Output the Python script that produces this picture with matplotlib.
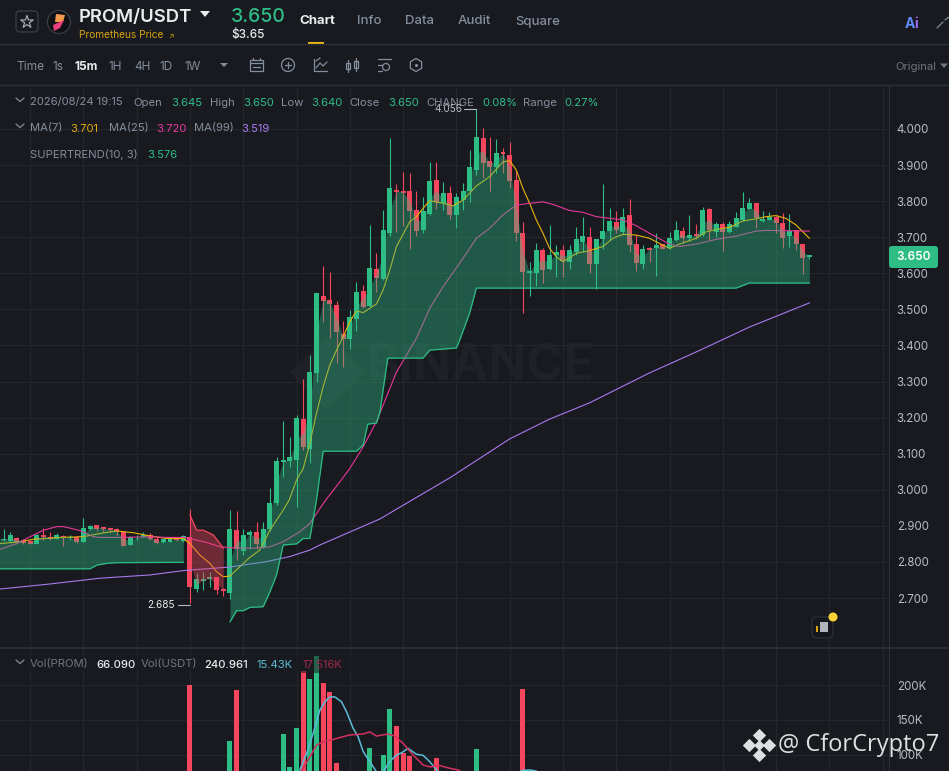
import numpy as np
import matplotlib
matplotlib.use("Agg")
import matplotlib.pyplot as plt
from matplotlib.patches import FancyBboxPatch, Rectangle, Circle, Polygon, RegularPolygon

plt.rcParams['font.family'] = ['Inter', 'DejaVu Sans']

open_ = [2.861,2.858,2.867,2.861,2.858,2.851,2.875,2.870,2.865,2.873,
2.866,2.868,2.855,2.892,2.902,2.896,2.893,2.890,2.884,2.848,
2.868,2.870,2.876,2.865,2.854,2.855,2.866,2.858,2.870,2.724,
2.748,2.752,2.757,2.726,2.713,2.888,2.831,2.875,2.883,2.842,
2.892,2.963,3.076,3.081,3.083,3.196,3.113,3.325,3.537,3.526,
3.512,3.432,3.418,3.473,3.551,3.509,3.613,3.583,3.711,3.831,
3.829,3.828,3.775,3.720,3.764,3.859,3.794,3.822,3.762,3.803,
3.827,3.886,3.975,3.911,3.896,3.937,3.928,3.859,3.711,3.600,
3.600,3.664,3.613,3.650,3.665,3.632,3.659,3.688,3.701,3.626,
3.694,3.717,3.741,3.714,3.762,3.681,3.626,3.671,3.671,3.681,
3.671,3.692,3.717,3.697,3.709,3.706,3.778,3.715,3.737,3.715,
3.727,3.748,3.778,3.794,3.745,3.748,3.757,3.740,3.704,3.720,
3.681,3.645]
close = [2.865,2.875,2.856,2.853,2.851,2.876,2.868,2.865,2.876,2.868,
2.870,2.855,2.893,2.900,2.890,2.891,2.888,2.884,2.845,2.870,
2.870,2.876,2.863,2.853,2.863,2.868,2.861,2.872,2.731,2.752,
2.753,2.757,2.722,2.720,2.890,2.835,2.875,2.883,2.850,2.892,
2.964,3.080,3.083,3.091,3.199,3.119,3.327,3.545,3.523,3.515,
3.437,3.418,3.479,3.548,3.507,3.614,3.586,3.720,3.836,3.825,
3.823,3.773,3.718,3.773,3.856,3.798,3.822,3.762,3.812,3.828,
3.895,3.979,3.905,3.896,3.934,3.930,3.856,3.713,3.604,3.606,
3.665,3.609,3.652,3.660,3.635,3.665,3.694,3.703,3.626,3.695,
3.718,3.745,3.720,3.757,3.678,3.628,3.668,3.665,3.678,3.668,
3.698,3.719,3.698,3.706,3.703,3.775,3.720,3.737,3.715,3.737,
3.752,3.782,3.794,3.752,3.750,3.757,3.740,3.698,3.718,3.681,
3.642,3.650]
high = [2.890,2.884,2.870,2.863,2.860,2.878,2.893,2.884,2.881,2.875,
2.875,2.870,2.921,2.902,2.903,2.897,2.894,2.893,2.885,2.872,
2.875,2.884,2.879,2.868,2.865,2.870,2.868,2.875,2.948,2.770,
2.773,2.773,2.758,2.727,2.944,2.941,2.890,2.888,2.911,2.911,
3.004,3.091,3.191,3.146,3.207,3.307,3.374,3.546,3.620,3.604,
3.523,3.468,3.498,3.576,3.568,3.734,3.655,3.775,3.975,3.847,
3.882,3.877,3.827,3.812,3.909,3.909,3.852,3.842,3.823,3.849,
3.942,4.056,4.003,3.979,3.971,3.948,3.964,3.884,3.741,3.632,
3.683,3.669,3.734,3.678,3.678,3.678,3.727,3.757,3.727,3.696,
3.847,3.780,3.774,3.780,3.806,3.706,3.678,3.672,3.711,3.682,
3.715,3.746,3.727,3.761,3.736,3.785,3.780,3.743,3.743,3.746,
3.771,3.826,3.808,3.796,3.773,3.771,3.759,3.766,3.764,3.721,
3.682,3.650]
low = [2.858,2.856,2.854,2.851,2.849,2.850,2.862,2.862,2.863,2.844,
2.862,2.853,2.854,2.888,2.887,2.884,2.884,2.875,2.844,2.847,
2.862,2.868,2.861,2.850,2.852,2.854,2.859,2.855,2.685,2.717,
2.722,2.731,2.711,2.706,2.696,2.805,2.819,2.835,2.835,2.838,
2.887,2.958,3.035,3.063,2.952,3.110,3.074,3.300,3.465,3.421,
3.351,3.340,3.390,3.440,3.504,3.507,3.547,3.581,3.703,3.715,
3.731,3.667,3.703,3.713,3.762,3.778,3.775,3.750,3.725,3.775,
3.798,3.872,3.863,3.828,3.879,3.877,3.837,3.689,3.489,3.537,
3.565,3.572,3.608,3.591,3.591,3.613,3.651,3.659,3.600,3.556,
3.666,3.692,3.711,3.706,3.660,3.607,3.613,3.632,3.592,3.666,
3.668,3.690,3.685,3.690,3.694,3.703,3.692,3.700,3.662,3.713,
3.727,3.746,3.777,3.726,3.743,3.747,3.711,3.669,3.674,3.665,
3.598,3.640]

ma7_i = [-0.5,2.5,4.5,8.5,12,14.5,17,19.5,22,24.5,27,28,29.5,31,32,33,34,35.5,37,38.5,40,42,42.9,44,45,46,47,48,49,50,51,52,53,54,55,56,57,58,59,61,62,63,64,66,67.5,69,71,73,75,76,77,78,79,80,81,82,83,84,86,88,90,91.5,93,95,97,99,100,101.5,104,105.5,108,109,111,113,114.5,116,117.5,119,121]
ma7_v = [2.851,2.856,2.863,2.868,2.870,2.879,2.886,2.881,2.872,2.865,2.865,2.851,2.819,2.796,2.773,2.759,2.761,2.787,2.813,2.833,2.888,2.944,2.972,3.027,3.059,3.129,3.212,3.286,3.346,3.387,3.424,3.466,3.496,3.491,3.503,3.515,3.554,3.609,3.674,3.743,3.757,3.780,3.801,3.794,3.787,3.803,3.842,3.868,3.909,3.912,3.886,3.835,3.794,3.748,3.711,3.669,3.646,3.632,3.655,3.663,3.674,3.697,3.708,3.706,3.697,3.678,3.669,3.681,3.697,3.715,3.725,3.727,3.745,3.751,3.757,3.760,3.752,3.734,3.697]
ma25_i = [-0.5,2,4,6,8,9,11.5,13.5,14.5,18,22,24.5,27,28,30.5,32.5,34.5,37.5,40,42,44.5,46,47.5,48.4,50.5,52,54,56,59,62,64,66,68.5,71,73,75,77,79,81,82.5,85,87,89,93,95,97,100,101.5,104,107,110,113,114.5,117.5,121]
ma25_v = [2.835,2.851,2.870,2.888,2.898,2.898,2.887,2.870,2.868,2.868,2.870,2.868,2.868,2.865,2.854,2.842,2.839,2.838,2.842,2.856,2.884,2.907,2.948,2.972,3.022,3.059,3.119,3.189,3.326,3.420,3.503,3.563,3.628,3.697,3.725,3.762,3.789,3.794,3.798,3.791,3.774,3.769,3.757,3.748,3.732,3.711,3.681,3.674,3.681,3.694,3.703,3.717,3.719,3.718,3.717]
ma99_i = [-0.5,7,14.5,22,27,34,39.5,43,46,47.5,56.5,67,76,82,88,97,104.6,112,121]
ma99_v = [2.725,2.739,2.755,2.764,2.776,2.786,2.801,2.815,2.833,2.847,2.919,3.033,3.141,3.196,3.241,3.324,3.387,3.451,3.518]

st1_i = [-0.5,13,14,15.5,17,27]
st1_v = [2.781,2.781,2.791,2.796,2.798,2.799]
st_red_i = [28,29,30,31.5,32.5,33]
st_red_v = [2.930,2.888,2.888,2.875,2.851,2.838]
st2_i = [34,35,36,37,39,40,41,42,44,45,46,47,48,53,54,54.7,56,56.5,57.7,63,64,68,68.5,70,71,110,112,121]
st2_v = [2.634,2.665,2.665,2.674,2.676,2.717,2.764,2.847,2.850,2.865,2.865,2.972,3.107,3.107,3.124,3.182,3.185,3.213,3.365,3.365,3.387,3.393,3.415,3.490,3.559,3.559,3.573,3.573]

vol_i = [28,34,35,42,43,44,45,46,47,48,49,50,55,57,58,59,60,61,65,71,78]
vol_k = [200,120,193,130,83,139,220,209,241,203,190,89,110,100,166,141,103,99,96,109,194]
volma_a_i = [44.5,45.5,46.5,47.5,48.25,49,49.75,50.75,51.5,52.5,53.25,54,55,56,57,58,59,59.75,60.75,62,63,64,65.25,67,76,77.75,79,80,82]
volma_a_k = [78.6,102,131,164,176,183,183,176,162,138,126,105,90.5,76,76,90.5,100,103,109.5,101,99.5,90.5,76,60,60,77.6,78.6,77,60]
volma_b_i = [44.75,45.75,47,48,49.25,50.5,52,54,55,56,57.75,58.75,60,61.5,63,64,65.5,67,68.25,68.75,70]
volma_b_k = [77,93,114,119,121.5,125,128.6,130,133,127,130,127,116.7,100,85.7,83,84.8,81,78.6,76,60]

price_ticks = [2.7,2.8,2.9,3.0,3.1,3.2,3.3,3.4,3.5,3.6,3.7,3.8,3.9,4.0]
vol_ticks = [100,150,200]

BG='#181a20'; GREEN='#2ebd85'; RED='#f6465d'; GRID='#23262d'; LINE='#2b3139'
GREY='#848e9c'; DIM='#6f7681'
W,H=949,771
fig=plt.figure(figsize=(W/100,H/100),dpi=100,facecolor=BG)

def axpx(x0,y0,x1,y1,**kw):
    return fig.add_axes([x0/W,1-y1/H,(x1-x0)/W,(y1-y0)/H],**kw)

ax=axpx(0,85,889,647,facecolor=BG)
vx=axpx(0,648,889,771,facecolor=BG)
ov=fig.add_axes([0,0,1,1],facecolor='none'); ov.set_xlim(0,W); ov.set_ylim(H,0); ov.axis('off'); ov.set_zorder(5)

xl=((0-3.5)/6.66,(889-3.5)/6.66)
o=np.array(open_);c=np.array(close);h=np.array(high);l=np.array(low)
idx=np.arange(len(o))
col=np.where(c>=o,GREEN,RED)
grid_x=np.arange(4,133,8)
for a in (ax,vx):
    a.set_xticks(grid_x); a.tick_params(axis='x',length=0,labelbottom=False)
    a.set_xlim(*xl)
    a.yaxis.tick_right()
    a.tick_params(axis='y',length=0,pad=5.5,labelsize=8.3,labelcolor='#b7bdc6')
    a.grid(True,color=GRID,lw=0.9,zorder=0); a.set_axisbelow(True)
    for s in a.spines.values(): s.set_visible(False)
    a.spines['right'].set_visible(True); a.spines['right'].set_color(LINE)
ax.set_yticks(price_ticks); ax.set_yticklabels([f'{t:.3f}' for t in price_ticks])
ax.set_ylim(2.5643,4.1219)
vx.set_yticks(vol_ticks); vx.set_yticklabels([f'{t}K' for t in vol_ticks])
vx.set_ylim(77.1,252.9)

# watermark under the candles
ax.text(481,367,'BINANCE',transform=ov.transData,ha='center',va='center',fontsize=36,fontweight='bold',color='#1f2127',zorder=0.5)
ax.scatter([327],[372],marker='D',s=1500,color='#1f2127',transform=ov.transData,zorder=0.5,lw=0)

ax.vlines(idx,l,h,colors=col,lw=0.8,zorder=1.5)
ax.bar(idx,c-o,bottom=o,width=0.75,color=col,lw=0,zorder=1.6)
ax.plot(ma7_i,ma7_v,color='#eab308',lw=0.8,zorder=2)
ax.plot(ma25_i,ma25_v,color='#e6399b',lw=0.8,zorder=2)
ax.plot(ma99_i,ma99_v,color='#a879ef',lw=0.8,zorder=2)

mid=(o+c)/2
def band(i0,i1,si,sv,color):
    xs=np.linspace(i0,i1,int((i1-i0)*6)+1)
    ax.fill_between(xs,np.interp(xs,si,sv),np.interp(xs,idx,mid),color=color,alpha=0.39,lw=0,zorder=3)
band(-0.6,27,st1_i,st1_v,GREEN)
band(28,33,st_red_i,st_red_v,RED)
band(34,121,st2_i,st2_v,GREEN)
ax.plot(st1_i,st1_v,color=GREEN,lw=0.9,zorder=3.5)
ax.plot(st_red_i,st_red_v,color=RED,lw=0.9,zorder=3.5)
ax.plot(st2_i,st2_v,color=GREEN,lw=0.9,zorder=3.5)

vcol=[GREEN if c[i]>=o[i] else RED for i in vol_i]
vx.bar(vol_i,vol_k,width=0.75,color=vcol,lw=0,zorder=2)
vx.plot(volma_a_i,volma_a_k,color='#5bbcd6',lw=1.1,zorder=3)
vx.plot(volma_b_i,volma_b_k,color='#d3305f',lw=1.1,zorder=3)

# chrome
def T(x,y,s,color=GREY,size=8.3,weight='normal',ha='left',**kw):
    ov.text(x,y,s,color=color,fontsize=size,fontweight=weight,ha=ha,va='center',**kw)
def L(xs,ys,color=GREY,lw=0.9):
    ov.plot(xs,ys,color=color,lw=lw,solid_capstyle='round')

for yy in (44,84.5): L([0,W],[yy,yy],LINE,1)
L([0,W],[647.5,647.5],LINE,1.2)
ov.add_patch(FancyBboxPatch((16,11),22,21,boxstyle='round,pad=0,rounding_size=4',fc='none',ec='#3a3f47',lw=0.9))
ov.scatter([27],[22],marker='*',s=90,fc='none',ec='#aeb4bc',lw=0.8)
ov.add_patch(Circle((59,22),11.5,fc='#101114',ec='#3a3f47',lw=0.9))
ov.add_patch(Polygon([[56,14],[65,15],[63,22],[55,22]],fc='#f39a4c',lw=0))
ov.add_patch(Polygon([[53,25],[64,20],[60,28],[54,31]],fc='#ec3d7c',lw=0))
T(79,17,'PROM/USDT','#eaecef',13.3,'semibold')
ov.add_patch(Polygon([[200,11],[210,11],[205,17]],fc='#eaecef',lw=0))
T(79,35.5,'Prometheus Price','#d9a40e',7.3)
T(168,36,'↗','#d9a40e',5)
T(231,17,'3.650',GREEN,14,'medium')
T(231,35,'$3.65','#eaecef',8.5,'medium')
T(299,21.5,'Chart','#eaecef',9.5,'bold')
for x,s in [(357,'Info'),(405,'Data'),(458,'Audit'),(515,'Square')]:
    T(x,21.5,s,GREY,9.5,'medium')
ov.add_patch(Rectangle((308,41.5),16,2.5,color='#f0b90b',lw=0))
T(905,24,'A','#5f8bf5',10,'bold')
T(914,24,'i','#a06cf0',10,'bold')
L([937,943],[28,22]); L([945,949],[20,17])

for x,s in [(16,'Time'),(53,'1s'),(109,'1H'),(134,'4H'),(160,'1D'),(185,'1W')]:
    T(x,66.5,s,GREY,8.5)
T(75,66.5,'15m','#eaecef',8.5,'bold')
ov.add_patch(Polygon([[220,63],[228,63],[224,67]],fc=GREY,lw=0))
# toolbar icons
ov.add_patch(Rectangle((250,60),13,11,fc='none',ec=GREY,lw=0.9)); L([250,263],[63,63]); L([253,253],[58,60]); L([260,260],[58,60]); L([253,260],[67,67])
ov.add_patch(Circle((288,65),6.5,fc='none',ec=GREY,lw=0.9)); L([285,291],[65,65]); L([288,288],[62,68])
L([314,314,327],[59,71,71]); L([316,320,323,327],[68,63,66,62]); L([316,320],[61,58])
for x,y0,y1 in [(348,63,69),(356,61,68)]:
    ov.add_patch(Rectangle((x-2,y0),4,y1-y0,fc='none',ec=GREY,lw=0.9)); L([x,x],[y0-3,y1+3])
L([378,391],[59,59]); L([378,382],[65,65]); L([378,382],[71,71]); ov.add_patch(Circle((386,67),3.5,fc='none',ec=GREY,lw=0.9))
ov.add_patch(RegularPolygon((416,65),6,radius=6.5,fc='none',ec=GREY,lw=0.9)); ov.scatter([416],[65],s=5,color=GREY,lw=0)
T(895,66.5,'Original',DIM,8.1)
ov.add_patch(Polygon([[940,63.5],[948,63.5],[944,68]],fc=DIM,lw=0))

def chev(y): L([16,20,24],[y-2,y+1.5,y-2],GREY,0.9)
chev(100)
for x,s,cl in [(30,'2026/08/24 19:15',GREY),(133,'Open',GREY),(171,'3.645',GREEN),(210,'High',GREY),(243,'3.650',GREEN),
               (281,'Low',GREY),(311,'3.640',GREEN),(349,'Close',GREY),(388,'3.650',GREEN),(426,'CHANGE',GREY),(482,'0.08%',GREEN),
               (523,'Range',GREY),(564,'0.27%',GREEN)]:
    T(x,102.5,s,cl,8.1)
chev(126)
for x,s,cl in [(30,'MA(7)',GREY),(70,'3.701','#e0ac0c'),(109,'MA(25)',GREY),(156,'3.720','#e6399b'),(194,'MA(99)',GREY),(241,'3.519','#a879ef')]:
    T(x,128.5,s,cl,8.1)
T(30,154.5,'SUPERTREND(10, 3)',GREY,8.1); T(147,154.5,'3.576',GREEN,8.1)

T(462,109,'4.056','#b7bdc6',7.2,ha='right'); L([464,476],[109,109],'#b7bdc6',0.8)
T(175,605,'2.685','#eaecef',7.2,ha='right'); L([178,190],[605,605],'#b7bdc6',0.8)

ov.add_patch(FancyBboxPatch((889,246),49,22,boxstyle='round,pad=0,rounding_size=3',fc=GREEN,lw=0))
T(913.5,257.5,'3.650','#ffffff',8.5,'semibold',ha='center')

# legend veil over the volume pane
ov.add_patch(Rectangle((30,655),335,18,fc=BG,alpha=0.55,lw=0))
chev(662)
for x,s,cl,w in [(30,'Vol(PROM)',DIM,'normal'),(96,'66.090','#eaecef','medium'),(141,'Vol(USDT)',DIM,'normal'),(204,'240.961','#eaecef','medium'),
               (257,'15.43K','#5bbcd6','normal'),(303,'17.516K','#a02a4a','normal')]:
    T(x,664.5,s,cl,8.1,w)

# news icon
ov.add_patch(FancyBboxPatch((812,617),21,21,boxstyle='round,pad=0,rounding_size=5',fc='#15171c',ec='#2b3139',lw=0.9))
ov.add_patch(Rectangle((820,622),8,10,fc='#aeb4bc',lw=0)); ov.add_patch(Rectangle((816,626),2,6,fc='#d9a40e',lw=0))
ov.add_patch(Circle((833,617),4.5,fc='#fcd535',lw=0))

# overlaid signature
wm='#dedfe0'
ov.scatter([759],[745],marker='D',s=30,color=wm,lw=0)
ov.scatter([759,759,749,769],[735,755,745,745],marker='D',s=46,color=wm,lw=0)
T(778,745,'@ CforCrypto7',wm,17,family='Open Sans')

fig.savefig('out.png',dpi=100,facecolor=BG)
